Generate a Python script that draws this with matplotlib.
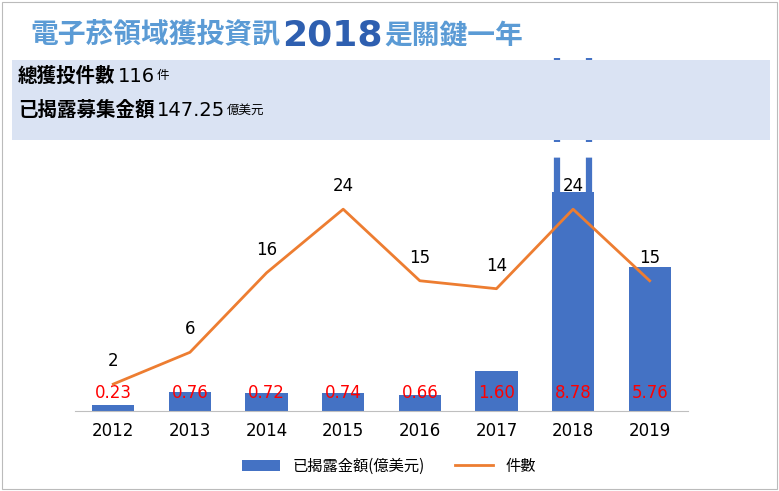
import matplotlib
matplotlib.use("Agg")
import matplotlib.pyplot as plt
from matplotlib.patches import Rectangle
from matplotlib import font_manager as fm

cjk = [f.name for f in fm.fontManager.ttflist if 'CJK' in f.name]
pref = [n for n in ['Noto Sans CJK TC', 'Noto Sans CJK SC', 'Noto Sans CJK JP'] if n in cjk]
CJK = pref[0] if pref else (cjk[0] if cjk else 'DejaVu Sans')
plt.rcParams['font.family'] = [CJK, 'DejaVu Sans']

years = ['2012','2013','2014','2015','2016','2017','2018','2019']
amounts = [0.23, 0.76, 0.72, 0.74, 0.66, 1.60, 8.78, 5.76]
amount_labels = ['0.23','0.76','0.72','0.74','0.66','1.60','8.78','5.76']
counts = [2, 6, 16, 24, 15, 14, 24, 15]
highlight_label = '136.78'

W, H = 779, 491
fig = plt.figure(figsize=(W/100, H/100), dpi=100)
fig.patches.append(Rectangle((12/W, (H-140)/H), 758/W, 80/H, transform=fig.transFigure,
                             facecolor='#dae3f3', edgecolor='none', zorder=0))
fig.patches.append(Rectangle((2/W, 2/H), (W-4)/W, (H-4)/H, transform=fig.transFigure,
                             facecolor='none', edgecolor='#bbbbbb', lw=0.8))

ax = fig.add_axes([75/W, (H-411)/H, (688-75)/W, (411-140)/H])
ax.set_facecolor('none')
x = list(range(len(years)))
ax.bar(x, amounts, width=0.55, color='#4472c4', label='已揭露金額(億美元)', zorder=2)
ax.set_xlim(-0.5, 7.5)
ax.set_ylim(0, 271/25)
ax.set_yticks([])
for s in ['left', 'right', 'top']:
    ax.spines[s].set_visible(False)
ax.spines['bottom'].set_color('#bfbfbf')
ax.set_xticks(x)
ax.set_xticklabels(years, fontsize=12, fontfamily='DejaVu Sans')
ax.tick_params(axis='x', length=0, pad=8)
for xi, lab in zip(x, amount_labels):
    ax.text(xi, 0.72, lab, color='red', ha='center', va='center', fontsize=12,
            fontfamily='DejaVu Sans', zorder=5)
top = (411-58)/25
for dx in (-0.21, 0.21):
    ax.plot([6+dx, 6+dx], [amounts[6], top], color='#4472c4', lw=4.5,
            ls=(0, (5.5, 2.5)), clip_on=False, zorder=3)
ax.text(6.42, (411-86)/25, highlight_label, color='red', fontsize=15, ha='left', va='center',
        fontfamily='DejaVu Sans')

ax2 = ax.twinx()
ax2.plot(x, counts, color='#ed7d31', lw=2, label='件數', zorder=4)
ax2.set_ylim(-11/7.95, 260/7.95)
ax2.set_yticks([])
for s in ax2.spines.values():
    s.set_visible(False)
for xi, c in zip(x, counts):
    ax2.text(xi, c + 2.9, str(c), ha='center', va='center', fontsize=12, fontfamily='DejaVu Sans')

h1, l1 = ax.get_legend_handles_labels()
h2, l2 = ax2.get_legend_handles_labels()
fig.legend(h1 + h2, l1 + l2, loc='center', bbox_to_anchor=(389/W, (H-466)/H), ncol=2,
           frameon=False, fontsize=11, handlelength=2.5)

renderer = fig.canvas.get_renderer()

def seq(x0, y0, parts):
    xp = x0
    for s, kw in parts:
        t = fig.text(xp/W, (H-y0)/H, s, va='center', ha='left', **kw)
        bb = t.get_window_extent(renderer)
        xp += bb.width + 2

seq(30, 35, [('電子菸領域獲投資訊', dict(color='#5b9bd5', fontsize=20, fontweight='bold')),
             ('2018', dict(color='#2e5fb0', fontsize=26, fontweight='heavy', fontfamily='DejaVu Sans')),
             ('是關鍵一年', dict(color='#5b9bd5', fontsize=20, fontweight='bold'))])
seq(18, 76, [('總獲投件數', dict(fontsize=14, fontweight='bold')),
             ('116', dict(fontsize=14, fontfamily='DejaVu Sans')),
             ('件', dict(fontsize=9))])
seq(18, 110, [('已揭露募集金額', dict(fontsize=14, fontweight='bold')),
              ('147.25', dict(fontsize=14, fontfamily='DejaVu Sans')),
              ('億美元', dict(fontsize=9))])

fig.savefig('out.png', dpi=100)
